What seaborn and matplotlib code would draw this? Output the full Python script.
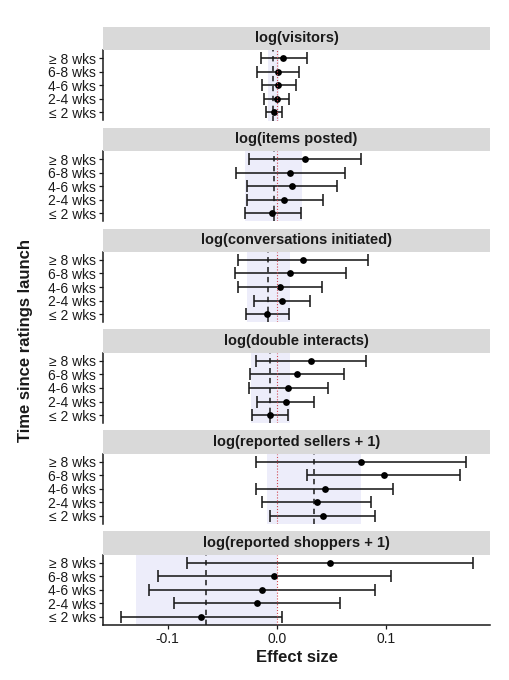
import numpy as np
import pandas as pd
import matplotlib
matplotlib.use("Agg")
import matplotlib.pyplot as plt
import seaborn as sns

sns.set_theme(style="white")
plt.rcParams['font.family'] = ['Liberation Sans', 'DejaVu Sans']

outcomes = ["log(visitors)", "log(items posted)", "log(conversations initiated)",
            "log(double interacts)", "log(reported sellers + 1)", "log(reported shoppers + 1)"]
periods = ["≥ 8 wks", "6-8 wks", "4-6 wks", "2-4 wks", "≤ 2 wks"]

est_visitors = [0.0058, 0.0012, 0.0015, 0.0000, -0.0027]
lo_visitors = [-0.0149, -0.0180, -0.0140, -0.0113, -0.0098]
hi_visitors = [0.0278, 0.0204, 0.0174, 0.0113, 0.0049]

est_items = [0.0262, 0.0125, 0.0140, 0.0070, -0.0040]
lo_items = [-0.0250, -0.0369, -0.0271, -0.0274, -0.0293]
hi_items = [0.0772, 0.0628, 0.0555, 0.0420, 0.0220]

est_conv = [0.0241, 0.0122, 0.0030, 0.0046, -0.0091]
lo_conv = [-0.0351, -0.0387, -0.0351, -0.0213, -0.0284]
hi_conv = [0.0836, 0.0631, 0.0412, 0.0308, 0.0107]

est_double = [0.0314, 0.0183, 0.0101, 0.0082, -0.0064]
lo_double = [-0.0189, -0.0247, -0.0259, -0.0177, -0.0226]
hi_double = [0.0820, 0.0613, 0.0464, 0.0342, 0.0098]

est_sellers = [0.0772, 0.0976, 0.0439, 0.0363, 0.0421]
lo_sellers = [-0.0189, 0.0274, -0.0186, -0.0140, -0.0058]
hi_sellers = [0.1729, 0.1680, 0.1061, 0.0866, 0.0900]

est_shoppers = [0.0485, -0.0024, -0.0140, -0.0177, -0.0692]
lo_shoppers = [-0.0823, -0.1083, -0.1171, -0.0942, -0.1427]
hi_shoppers = [0.1793, 0.1040, 0.0897, 0.0580, 0.0043]

pooled_est = [-0.0031, -0.0027, -0.0085, -0.0058, 0.0339, -0.0645]
pooled_lo = [-0.0085, -0.0290, -0.0274, -0.0238, -0.0091, -0.1290]
pooled_hi = [0.0017, 0.0229, 0.0116, 0.0122, 0.0772, 0.0000]

xticks = [-0.1, 0.0, 0.1]
xticklabels = ["-0.1", "0.0", "0.1"]

all_est = [est_visitors, est_items, est_conv, est_double, est_sellers, est_shoppers]
all_lo = [lo_visitors, lo_items, lo_conv, lo_double, lo_sellers, lo_shoppers]
all_hi = [hi_visitors, hi_items, hi_conv, hi_double, hi_sellers, hi_shoppers]

rows = []
for o, e, l, h in zip(outcomes, all_est, all_lo, all_hi):
    for i, p in enumerate(periods):
        rows.append(dict(outcome=o, period=p, ypos=len(periods) - i, est=e[i], lo=l[i], hi=h[i]))
df = pd.DataFrame(rows)

W, H = 509, 680
fig = plt.figure(figsize=(W / 100, H / 100), dpi=100)
left_px, right_px = 103, 490
top0, pitch, strip_h, body_h = 26.7, 100.9, 23.3, 70.5
dark = "#1a1a1a"

for k, o in enumerate(outcomes):
    st = top0 + k * pitch
    sb = st + strip_h
    bb = sb + body_h
    ax = fig.add_axes([left_px / W, 1 - bb / H, (right_px - left_px) / W, body_h / H])
    sax = fig.add_axes([left_px / W, 1 - sb / H, (right_px - left_px) / W, strip_h / H])
    sax.set_facecolor("#d9d9d9")
    sax.set_xticks([]); sax.set_yticks([])
    for s in sax.spines.values():
        s.set_visible(False)
    sax.text(0.5, 0.5, o, ha="center", va="center", fontsize=10.5, fontweight="bold",
             color=dark, transform=sax.transAxes)

    sub = df[df.outcome == o]
    ax.axvspan(pooled_lo[k], pooled_hi[k], color="#ededfa", zorder=0, lw=0)
    ax.axvline(pooled_est[k], color=dark, ls=(0, (3.5, 3)), lw=1.1, zorder=1)
    ax.errorbar(sub.est, sub.ypos, xerr=[sub.est - sub.lo, sub.hi - sub.est], fmt="none",
                ecolor=dark, elinewidth=1.15, capsize=4.0, capthick=1.15, zorder=2)
    sns.scatterplot(data=sub, x="est", y="ypos", ax=ax, color="black", s=24,
                    edgecolor="black", linewidth=0, zorder=3, legend=False)
    ax.axvline(0, color="#d0454f", ls=(0, (1, 1.6)), lw=0.8, zorder=4)

    ax.set_xlim(-0.159, 0.195)
    ax.set_ylim(0.4, 5.6)
    ax.set_yticks(sub.ypos)
    ax.set_yticklabels(sub.period, fontsize=10, color=dark)
    ax.set_xlabel(""); ax.set_ylabel("")
    for s in ["top", "right"]:
        ax.spines[s].set_visible(False)
    ax.spines["left"].set_color(dark); ax.spines["left"].set_linewidth(1.1)
    ax.tick_params(axis="y", left=True, length=3, width=0.9, color=dark, pad=2)
    if k == len(outcomes) - 1:
        ax.spines["bottom"].set_color(dark); ax.spines["bottom"].set_linewidth(1.1)
        ax.set_xticks(xticks)
        ax.set_xticklabels(xticklabels, fontsize=10, color=dark)
        ax.tick_params(axis="x", bottom=True, length=3, width=0.9, color=dark, pad=2)
        ax.set_xlabel("Effect size", fontsize=12, fontweight="bold", color=dark, labelpad=3)
    else:
        ax.spines["bottom"].set_visible(False)
        ax.set_xticks([])
    ax.set_facecolor("white")

fig.text(26 / W, 1 - 340 / H, "Time since ratings launch", rotation=90, ha="center",
         va="center", fontsize=12, fontweight="bold", color=dark)

fig.savefig("out.png", dpi=100, facecolor="white")
